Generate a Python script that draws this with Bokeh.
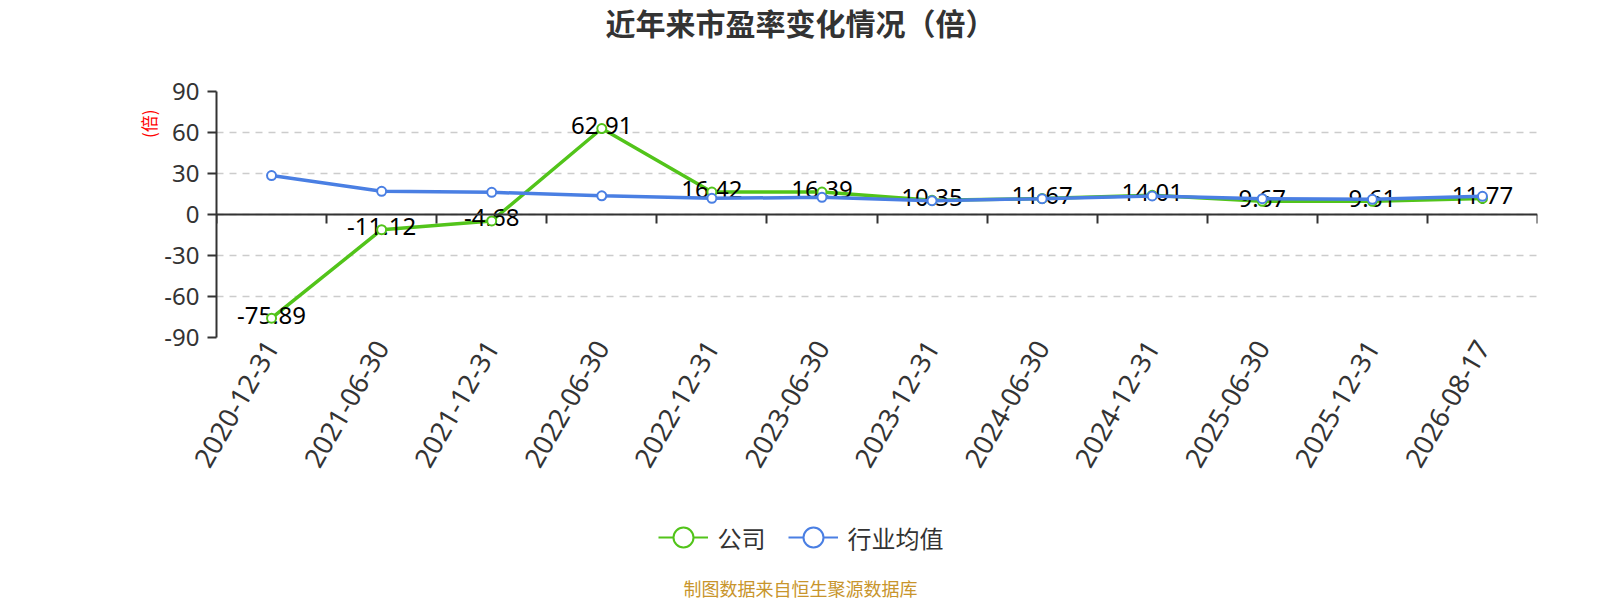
import math
from bokeh.plotting import figure
from bokeh.layouts import column, row
from bokeh.models import (Range1d, FixedTicker, LinearAxis, Label, Legend,
                          LegendItem, ColumnDataSource)
from bokeh.core.properties import value
from bokeh.embed import file_html
from bokeh.resources import INLINE

# ---- data ----
dates = ["2020-12-31", "2021-06-30", "2021-12-31", "2022-06-30", "2022-12-31",
         "2023-06-30", "2023-12-31", "2024-06-30", "2024-12-31", "2025-06-30",
         "2025-12-31", "2026-08-17"]
company = [-75.89, -11.12, -4.68, 62.91, 16.42, 16.39, 10.35, 11.67, 14.01,
           9.67, 9.61, 11.77]
industry = [28.5, 17.0, 16.2, 13.7, 11.8, 12.6, 10.1, 11.6, 13.6, 11.6, 11.1, 13.3]
y_ticks = [-90, -60, -30, 0, 30, 60, 90]
title_text = "近年来市盈率变化情况（倍）"
y_name = "(倍)"
legend_names = ["公司", "行业均值"]
source_note = "制图数据来自恒生聚源数据库"

GREEN = "#52c41a"
BLUE = "#4a7fe3"
TXT = "#333333"
CJK = "Noto Sans CJK SC"
LAT = "Noto Sans"

W, H = 1600, 600
HEAD_H, MID_H = 70, 420
FOOT_H = H - HEAD_H - MID_H
NAME_W = 161


def text_fig(w, h):
    f = figure(width=w, height=h, x_range=Range1d(0, w), y_range=Range1d(0, h),
               x_axis_type=None, y_axis_type=None, min_border=0,
               toolbar_location=None, output_backend="svg", title_location=None)
    f.outline_line_color = None
    f.background_fill_color = "white"
    f.border_fill_color = "white"
    return f


# ---- head (title) ----
head = text_fig(W, HEAD_H)
head.add_layout(Label(x=800, y=HEAD_H - 21, x_units="screen", y_units="screen",
                      text=title_text, text_font=CJK, text_font_size="30px",
                      text_font_style="bold", text_color=TXT,
                      text_align="center", text_baseline="middle"))

# ---- y axis name (rotated) ----
name_fig = text_fig(NAME_W, MID_H)
name_fig.text(x=[148], y=[MID_H - (125 - HEAD_H)], text=[y_name],
              text_font=value(CJK), text_font_size="17px",
              text_color="#ff0000", angle=math.pi / 2,
              text_align="center", text_baseline="middle")

# ---- main chart ----
idx = list(range(len(dates)))
src = ColumnDataSource(dict(x=idx, company=company, industry=industry,
                            label=[f"{v:.2f}" for v in company]))

p = figure(width=W - NAME_W, height=MID_H, output_backend="svg",
           toolbar_location=None, title_location=None,
           x_range=Range1d(-0.5, len(dates) - 0.5), y_range=Range1d(-90, 90),
           min_border_left=215 - NAME_W, min_border_right=W - 1537,
           min_border_top=21, min_border_bottom=MID_H - 21 - 246)
p.outline_line_color = None
p.background_fill_color = "white"
p.border_fill_color = "white"

p.xgrid.visible = False
p.ygrid.ticker = FixedTicker(ticks=y_ticks)
p.ygrid.grid_line_color = "#cccccc"
p.ygrid.grid_line_dash = "7 6"
p.ygrid.grid_line_width = 1.5

p.yaxis.ticker = FixedTicker(ticks=y_ticks)
p.yaxis.major_label_overrides = {v: str(v) for v in y_ticks}
p.yaxis.axis_line_color = TXT
p.yaxis.axis_line_width = 2
p.yaxis.major_tick_line_color = TXT
p.yaxis.major_tick_line_width = 2
p.yaxis.major_tick_out = 9
p.yaxis.major_tick_in = 0
p.yaxis.minor_tick_line_color = None
p.yaxis.major_label_standoff = 8
p.yaxis.major_label_text_font = LAT
p.yaxis.major_label_text_font_size = "24px"
p.yaxis.major_label_text_color = TXT

p.xaxis.ticker = FixedTicker(ticks=idx)
p.xaxis.major_label_overrides = {i: d for i, d in enumerate(dates)}
p.xaxis.axis_line_color = None
p.xaxis.major_tick_line_color = None
p.xaxis.minor_tick_line_color = None
p.xaxis.major_tick_out = 0
p.xaxis.major_tick_in = 0
p.xaxis.major_label_orientation = math.radians(60)
p.xaxis.major_label_standoff = 5
p.xaxis.major_label_text_font = LAT
p.xaxis.major_label_text_font_size = "27px"
p.xaxis.major_label_text_color = TXT

bax = LinearAxis(fixed_location=0,
                 ticker=FixedTicker(ticks=[i - 0.5 for i in range(len(dates) + 1)]),
                 major_tick_out=9, major_tick_in=0,
                 minor_tick_out=0, minor_tick_in=0,
                 axis_line_color=TXT, axis_line_width=2,
                 major_tick_line_color=TXT, major_tick_line_width=2,
                 major_label_text_color=None, major_label_text_font_size="1px",
                 major_label_standoff=0)
p.add_layout(bax, "below")

p.line("x", "company", source=src, line_color=GREEN, line_width=3.5)
p.text("x", "company", text="label", source=src, text_font=value(LAT),
       text_font_size="24px", text_align="center", text_baseline="middle",
       y_offset=-3, text_color="#000000")
p.scatter("x", "company", source=src, marker="circle", size=9,
          fill_color="white", line_color=GREEN, line_width=2)
p.line("x", "industry", source=src, line_color=BLUE, line_width=3.5)
p.scatter("x", "industry", source=src, marker="circle", size=9,
          fill_color="white", line_color=BLUE, line_width=2)

# ---- foot (legend + source) ----
foot = text_fig(W, FOOT_H)
# legend proxies: one point each, placed outside the visible range
lg_g_line = foot.line(x=[-10, -9], y=[-10, -10], line_color=GREEN, line_width=2)
lg_g_pt = foot.scatter(x=[-10], y=[-10], marker="circle", fill_color="white",
                       line_color=GREEN, line_width=2)
lg_b_line = foot.line(x=[-10, -9], y=[-10, -10], line_color=BLUE, line_width=2)
lg_b_pt = foot.scatter(x=[-10], y=[-10], marker="circle", fill_color="white",
                       line_color=BLUE, line_width=2)
legend = Legend(items=[LegendItem(label=legend_names[0], renderers=[lg_g_line, lg_g_pt]),
                       LegendItem(label=legend_names[1], renderers=[lg_b_line, lg_b_pt])],
                orientation="horizontal", location=(657.5, H - 565),
                glyph_width=50, glyph_height=56, label_standoff=10, spacing=22,
                padding=0, margin=0, border_line_color=None,
                background_fill_alpha=0,
                label_text_font=CJK, label_text_font_size="24px",
                label_text_color=TXT)
foot.add_layout(legend)
foot.add_layout(Label(x=800, y=H - 587, x_units="screen", y_units="screen",
                      text=source_note, text_font=CJK, text_font_size="18px",
                      text_color="#c8952c", text_align="center",
                      text_baseline="middle"))

layout = column(head, row(name_fig, p), foot)
open("out.html", "w").write(file_html(layout, INLINE))
